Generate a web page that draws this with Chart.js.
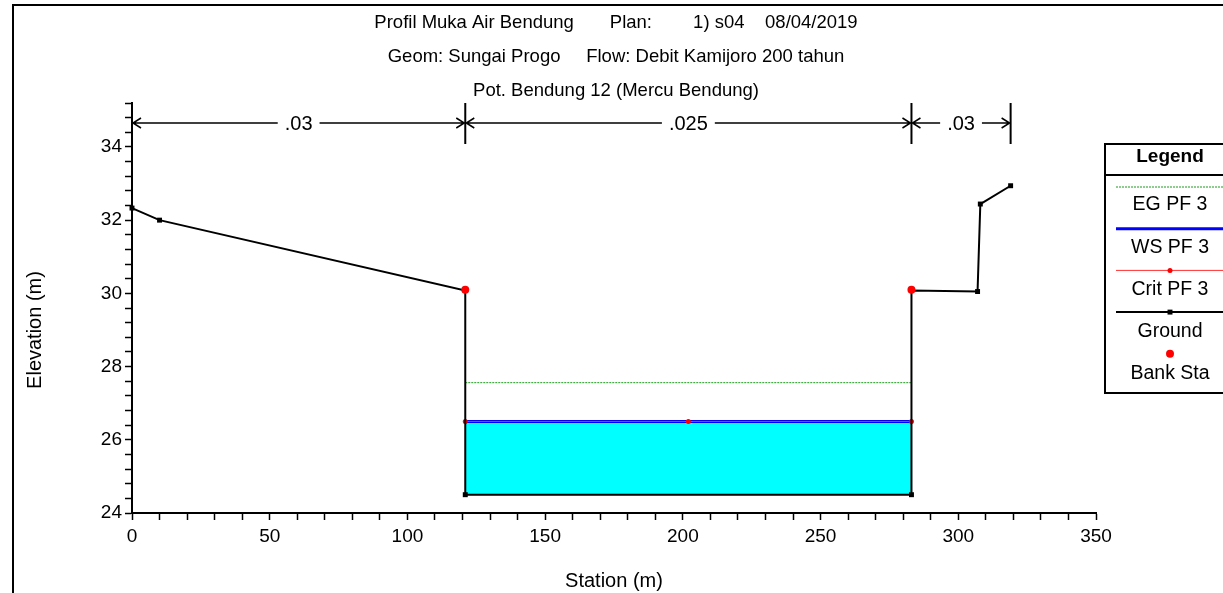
<!DOCTYPE html>
<html>
<head>
<meta charset="utf-8">
<script src="https://cdn.jsdelivr.net/npm/chart.js@4.4.0/dist/chart.umd.min.js"></script>
<style>
    html, body { margin: 0; padding: 0; background: #fff; }
    #wrap { width: 1223px; height: 593px; }
</style>
</head>
<body>
<div id="wrap"><canvas id="profileChart" width="1223" height="593"></canvas></div>
<script>
// Judul
const titleLines = [
    'Profil Muka Air Bendung       Plan:        1) s04    08/04/2019',
    'Geom: Sungai Progo     Flow: Debit Kamijoro 200 tahun',
    'Pot. Bendung 12 (Mercu Bendung)'
];
const xTitle = 'Station (m)';
const yTitle = 'Elevation (m)';

// Ground (station m, elevation m)
const groundSta = [0, 10, 121, 121, 283, 283, 307, 308, 319];
const groundElev = [32.33, 32.0, 30.08, 24.5, 24.5, 30.08, 30.05, 32.44, 32.94];

const bankSta = [121, 283];
const bankElev = [30.1, 30.1];

const wsSta = [121, 283];
const wsElev = [26.5, 26.5];

const critSta = [121, 202, 283];
const critElev = [26.5, 26.5, 26.5];

const egSta = [121, 283];
const egElev = [27.56, 27.56];

// Manning n
const nSta = [0, 121, 283, 319];
const nLabels = ['.03', '.025', '.03'];

const xMin = 0, xMax = 350, xStep = 10, xLabelEvery = 50;
const yMin = 24, yMax = 35.2, yStep = 0.4, yLabelEvery = 2;

const FONT = '"Liberation Sans", Arial, sans-serif';
Chart.defaults.font.family = FONT;
Chart.defaults.font.size = 19;
Chart.defaults.color = '#000';

const toPts = (xs, ys) => xs.map((x, i) => ({ x, y: ys[i] }));

const datasets = [
    {
        label: 'EG PF 3',
        data: toPts(egSta, egElev),
        borderColor: '#1a9a1a',
        borderWidth: 1,
        borderDash: [2, 1],
        pointRadius: 0,
        order: 4
    },
    {
        label: 'WS PF 3',
        data: toPts(wsSta, wsElev),
        borderColor: '#0000ff',
        borderWidth: 3,
        pointRadius: 0,
        backgroundColor: '#00ffff',
        fill: { value: Math.min(...groundElev) },
        order: 3
    },
    {
        label: 'Crit PF 3',
        data: toPts(critSta, critElev),
        borderColor: '#ff3030',
        borderWidth: 1,
        pointRadius: 2.5,
        pointBackgroundColor: '#ff0000',
        pointBorderWidth: 0,
        order: 2
    },
    {
        label: 'Ground',
        data: toPts(groundSta, groundElev),
        borderColor: '#000',
        borderWidth: 2,
        pointStyle: 'rect',
        pointRadius: 3.5,
        pointBackgroundColor: '#000',
        pointBorderWidth: 0,
        order: 1
    },
    {
        label: 'Bank Sta',
        data: toPts(bankSta, bankElev),
        showLine: false,
        pointRadius: 4,
        pointBackgroundColor: '#ff0000',
        pointBorderWidth: 0,
        order: 0
    }
];
datasets.forEach(d => { d.clip = false; d.tension = 0; });

// bingkai, judul, n Manning, legenda
const decorPlugin = {
    id: 'decor',
    afterDraw(chart) {
        const { ctx, chartArea: area, scales: { x: xs } } = chart;
        ctx.save();

        // bingkai luar
        ctx.strokeStyle = '#000';
        ctx.lineWidth = 2;
        ctx.beginPath();
        ctx.moveTo(13, 593);
        ctx.lineTo(13, 5);
        ctx.lineTo(1223, 5);
        ctx.stroke();

        // judul
        ctx.fillStyle = '#000';
        ctx.font = '18.5px ' + FONT;
        ctx.textAlign = 'center';
        ctx.textBaseline = 'middle';
        const cx = (area.left + area.right) / 2 + 2;
        titleLines.forEach((t, i) => ctx.fillText(t, cx, 23 + i * 34));

        // judul sumbu Y (agak ke bawah seperti aslinya)
        ctx.save();
        ctx.font = '20px ' + FONT;
        ctx.translate(35, 330);
        ctx.rotate(-Math.PI / 2);
        ctx.fillText(yTitle, 0, 0);
        ctx.restore();

        // n Manning
        ctx.font = '20px ' + FONT;
        const yTop = area.top, yArrow = area.top + 20, yBot = area.top + 41;
        ctx.lineWidth = 2;
        nSta.forEach(s => {
            const px = xs.getPixelForValue(s);
            ctx.beginPath();
            ctx.moveTo(px, yTop);
            ctx.lineTo(px, yBot);
            ctx.stroke();
        });
        ctx.lineWidth = 1.5;
        nLabels.forEach((lab, i) => {
            const a = xs.getPixelForValue(nSta[i]);
            const b = xs.getPixelForValue(nSta[i + 1]);
            const mid = (a + b) / 2;
            const w = ctx.measureText(lab).width / 2 + 7;
            ctx.fillText(lab, mid, yArrow + 1);
            ctx.beginPath();
            ctx.moveTo(a, yArrow); ctx.lineTo(mid - w, yArrow);
            ctx.moveTo(mid + w, yArrow); ctx.lineTo(b, yArrow);
            // ujung panah
            ctx.moveTo(a + 9, yArrow - 5); ctx.lineTo(a + 1, yArrow); ctx.lineTo(a + 9, yArrow + 5);
            ctx.moveTo(b - 9, yArrow - 5); ctx.lineTo(b - 1, yArrow); ctx.lineTo(b - 9, yArrow + 5);
            ctx.stroke();
        });

        // legenda
        const L = 1105, T = 144, R = 1240, B = 393, lcx = 1170;
        ctx.lineWidth = 2;
        ctx.strokeRect(L, T, R - L, B - T);
        ctx.beginPath();
        ctx.moveTo(L, 175); ctx.lineTo(R, 175);
        ctx.stroke();
        ctx.font = 'bold 19px ' + FONT;
        ctx.fillText('Legend', lcx, 157);
        ctx.font = '19.5px ' + FONT;
        chart.data.datasets.forEach((d, i) => {
            const ly = 187 + i * 41.7, ty = 205 + i * 42.2;
            if (d.showLine !== false) {
                ctx.save();
                ctx.strokeStyle = d.borderColor;
                ctx.lineWidth = d.borderWidth;
                ctx.setLineDash(d.borderDash || []);
                ctx.beginPath();
                ctx.moveTo(1116, ly); ctx.lineTo(1223, ly);
                ctx.stroke();
                ctx.restore();
            }
            if (d.pointRadius > 0) {
                ctx.fillStyle = d.pointBackgroundColor;
                ctx.beginPath();
                if (d.pointStyle === 'rect') {
                    const h = d.pointRadius * Math.SQRT1_2;
                    ctx.rect(lcx - h, ly - h, 2 * h, 2 * h);
                } else {
                    ctx.arc(lcx, ly, d.pointRadius, 0, Math.PI * 2);
                }
                ctx.fill();
            }
            ctx.fillStyle = '#000';
            ctx.fillText(d.label, lcx, ty);
        });

        ctx.restore();
    }
};

const ctx = document.getElementById('profileChart').getContext('2d');
new Chart(ctx, {
    type: 'line',
    data: { datasets },
    options: {
        responsive: false,
        animation: false,
        devicePixelRatio: 1,
        layout: { padding: { left: 14, right: 127, top: 103, bottom: 0 } },
        plugins: {
            legend: { display: false },
            tooltip: { enabled: false },
            title: { display: false }
        },
        scales: {
            x: {
                type: 'linear',
                min: xMin,
                max: xMax,
                afterFit: s => { s.height = 80; },
                border: { color: '#000', width: 2 },
                grid: { drawOnChartArea: false, drawTicks: true, tickLength: 7, tickColor: '#000', tickWidth: 1.5 },
                ticks: {
                    stepSize: xStep,
                    autoSkip: false,
                    maxRotation: 0,
                    padding: 5,
                    color: '#000',
                    callback: v => (Math.abs(v % xLabelEvery) < 1e-6 ? v : '')
                },
                title: { display: true, text: xTitle, color: '#000', font: { size: 20 }, padding: { top: 0, bottom: 0 } }
            },
            y: {
                type: 'linear',
                min: yMin,
                max: yMax,
                afterFit: s => { s.width = 118; },
                border: { color: '#000', width: 2 },
                grid: { drawOnChartArea: false, drawTicks: true, tickLength: 7, tickColor: '#000', tickWidth: 1.5 },
                ticks: {
                    stepSize: yStep,
                    autoSkip: false,
                    padding: 3,
                    color: '#000',
                    callback: v => {
                        const r = v / yLabelEvery;
                        return Math.abs(r - Math.round(r)) < 1e-6 && v < yMax ? Math.round(v) : '';
                    }
                },
                title: { display: false }
            }
        }
    },
    plugins: [decorPlugin]
});
</script>
</body>
</html>
